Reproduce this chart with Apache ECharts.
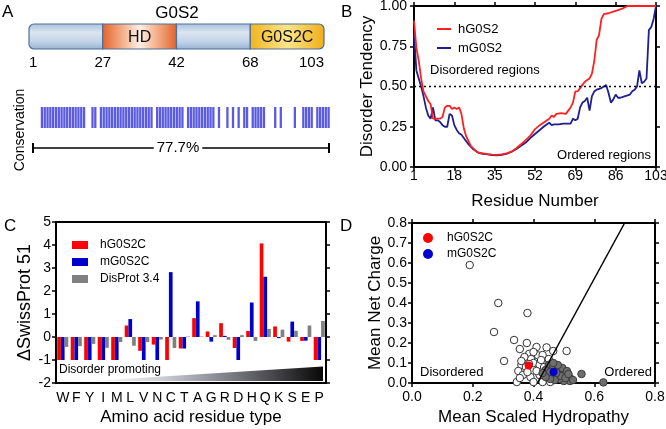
<!DOCTYPE html>
<html>
<head>
<meta charset="utf-8">
<script src="https://cdn.jsdelivr.net/npm/echarts@6/dist/echarts.min.js"></script>
<style>
  html, body { margin: 0; padding: 0; background: #fff; }
  #chart { width: 666px; height: 429px; }
</style>
</head>
<body>
<div id="chart"></div>
<script>
// ---- panel A: domain map + conservation ----
const domainEdges = [1, 27, 42, 68, 103];
const domainNames = ['', 'HD', '', 'G0S2C'];
const proteinLength = 103;
// conserved residues, as runs [from, to]
const conservedRuns = [[1, 16], [19, 20], [22, 40], [42, 51], [53, 62], [64, 64], [67, 67], [69, 69],
  [71, 71], [73, 74], [76, 80], [84, 84], [86, 86], [91, 91], [94, 97], [99, 103]];

// ---- panel B: disorder tendency (residue, score) ----
const residueTicks = [1, 18, 35, 52, 69, 86, 103];
const hG0S2 = [[1, 0.91], [2, 0.74], [3, 0.66], [4, 0.55], [5, 0.47], [6, 0.44], [7, 0.41], [8, 0.39], [9, 0.30],
  [10, 0.30], [11, 0.30], [12, 0.30], [13, 0.31], [14, 0.37], [15, 0.38], [16, 0.38], [17, 0.36], [18, 0.37],
  [19, 0.36], [20, 0.37], [21, 0.33], [22, 0.24], [23, 0.19], [24, 0.16], [25, 0.13], [26, 0.115], [27, 0.10],
  [28, 0.09], [30, 0.085], [32, 0.08], [34, 0.077], [36, 0.075], [38, 0.078], [40, 0.085], [42, 0.095],
  [44, 0.115], [46, 0.14], [48, 0.165], [50, 0.195], [52, 0.235], [54, 0.26], [56, 0.28], [58, 0.30],
  [59, 0.32], [60, 0.31], [61, 0.33], [63, 0.335], [65, 0.33], [66, 0.35], [67, 0.37], [68, 0.40], [69, 0.47],
  [70, 0.47], [71, 0.49], [72, 0.51], [73, 0.53], [74, 0.54], [75, 0.55], [76, 0.58], [77, 0.66], [78, 0.79],
  [79, 0.82], [80, 0.92], [81, 0.95], [83, 0.955], [85, 0.965], [87, 0.975], [89, 0.985], [91, 1.0], [103, 1.0]];
const mG0S2 = [[1, 0.83], [2, 0.60], [3, 0.55], [4, 0.50], [5, 0.44], [6, 0.37], [7, 0.32], [8, 0.30], [9, 0.37],
  [10, 0.29], [11, 0.29], [12, 0.28], [13, 0.26], [14, 0.25], [15, 0.25], [16, 0.33], [17, 0.32], [18, 0.26],
  [19, 0.23], [20, 0.21], [21, 0.20], [22, 0.18], [23, 0.16], [24, 0.14], [25, 0.125], [26, 0.11], [28, 0.09],
  [30, 0.082], [32, 0.078], [34, 0.074], [36, 0.073], [38, 0.076], [40, 0.082], [42, 0.093], [44, 0.11],
  [46, 0.13], [48, 0.15], [50, 0.18], [52, 0.205], [54, 0.23], [56, 0.255], [58, 0.275], [59, 0.26],
  [60, 0.265], [62, 0.265], [64, 0.27], [66, 0.27], [67, 0.27], [68, 0.30], [69, 0.29], [70, 0.30], [71, 0.37],
  [72, 0.40], [73, 0.41], [74, 0.43], [75, 0.35], [76, 0.44], [77, 0.47], [78, 0.48], [80, 0.49], [81, 0.50],
  [82, 0.51], [83, 0.46], [84, 0.40], [85, 0.42], [86, 0.45], [87, 0.43], [88, 0.43], [90, 0.44], [92, 0.45],
  [93, 0.47], [94, 0.48], [95, 0.50], [96, 0.60], [97, 0.52], [98, 0.53], [99, 0.55], [100, 0.85], [101, 0.87],
  [102, 0.92], [103, 1.0]];

// ---- panel C: composition vs SwissProt 51 ----
const aminoAcids = ['W', 'F', 'Y', 'I', 'M', 'L', 'V', 'N', 'C', 'T', 'A', 'G', 'R', 'D', 'H', 'Q', 'K', 'S', 'E', 'P'];
const hG0S2C = [-1, -1, -1, -1, -1, 0.5, -0.6, -0.33, -1, -0.5, 0.82, 0.24, 0.6, -0.48, 0.26, 4.07, 0.46, -0.2, -0.17, -1];
const mG0S2C = [-1, -1, -1, -1, -1, 0.78, -1, -1, 2.82, -0.5, 1.55, -0.2, 0.05, -1, 1.5, 2.62, -0.05, 0.67, -0.16, -1];
const disProt = [-0.43, -0.4, -0.3, -0.47, -0.22, -0.38, -0.22, -0.11, -0.48, 0.02, 0.02, 0.08, -0.12, 0.08, -0.17, 0.35, 0.32, 0.27, 0.5, 0.7];

// ---- panel D: charge-hydropathy plot ----
const disorderedProteins = [[0.19, 0.59], [0.284, 0.40], [0.38, 0.35], [0.27, 0.255], [0.336, 0.215], [0.378, 0.20],
  [0.41, 0.18], [0.443, 0.178], [0.465, 0.16], [0.509, 0.16], [0.355, 0.17], [0.386, 0.146], [0.415, 0.138],
  [0.303, 0.11], [0.36, 0.09], [0.375, 0.08], [0.392, 0.12], [0.37, 0.13], [0.40, 0.10], [0.42, 0.09],
  [0.35, 0.06], [0.365, 0.04], [0.345, 0.005], [0.39, 0.03], [0.40, 0.005], [0.42, 0.04], [0.435, 0.08],
  [0.44, 0.02], [0.45, 0.12], [0.43, 0.14], [0.41, 0.06], [0.38, 0.055], [0.425, 0.115], [0.455, 0.005],
  [0.47, 0.03], [0.385, 0.095], [0.40, 0.155], [0.36, 0.11], [0.43, 0.005], [0.445, 0.045], [0.465, 0.095],
  [0.355, 0.025]];
const orderedProteins = [[0.45, 0.09], [0.465, 0.08], [0.48, 0.07], [0.49, 0.06], [0.50, 0.05], [0.51, 0.04],
  [0.52, 0.025], [0.52, 0.01], [0.50, 0.01], [0.485, 0.02], [0.46, 0.04], [0.47, 0.015], [0.49, 0.035],
  [0.505, 0.025], [0.495, 0.075], [0.475, 0.05], [0.44, 0.065], [0.455, 0.055], [0.53, 0.015], [0.48, 0.09],
  [0.455, 0.02], [0.465, 0.10], [0.51, 0.06], [0.515, 0.045], [0.44, 0.03], [0.43, 0.05], [0.558, 0.045],
  [0.63, 0.003]];
const hG0S2CPoint = [[0.384, 0.087]];
const mG0S2CPoint = [[0.466, 0.055]];
const boundaryLine = [[0.413, 0], [0.70, 0.8]];

// ---------------------------------------------------------------
const FONT = 'Liberation Sans, Arial, Helvetica, sans-serif';
const BLACK = '#000';
const RED_B = '#ff2020';
const NAVY_B = '#1f1f8f';

const residues = Array.from({ length: proteinLength }, (_, k) => k + 1);
const consFlags = residues.map(r => conservedRuns.some(([a, b]) => r >= a && r <= b) ? 1 : 0);
const consPct = (consFlags.reduce((s, v) => s + v, 0) / proteinLength * 100).toFixed(1) + '%';

// segment fills of the domain map
const blueFill = { type: 'linear', x: 0, y: 0, x2: 0, y2: 1, colorStops: [
  { offset: 0, color: '#a8c0dc' }, { offset: 0.35, color: '#dbe5f1' }, { offset: 0.7, color: '#c2d3e7' }, { offset: 1, color: '#94b1d2' }] };
const hdFill = { type: 'linear', x: 0, y: 0, x2: 1, y2: 0, colorStops: [
  { offset: 0, color: '#e3622a' }, { offset: 0.3, color: '#f6b894' }, { offset: 0.5, color: '#fdefe6' },
  { offset: 0.7, color: '#f6b894' }, { offset: 1, color: '#e3622a' }] };
const yellowFill = { type: 'linear', x: 0, y: 0, x2: 1, y2: 0, colorStops: [
  { offset: 0, color: '#f1b41c' }, { offset: 0.5, color: '#fbe58c' }, { offset: 1, color: '#efae18' }] };
const domainFills = [blueFill, hdFill, blueFill, yellowFill];

const lineStyle = { color: BLACK, width: 2 };
const tickStyle = { color: BLACK, width: 1.5 };
const labelStyle = { color: BLACK, fontSize: 14, fontFamily: FONT };
const nameStyle = { color: BLACK, fontSize: 17, fontFamily: FONT };

// framed axis (labels only on bottom/left)
function frameAxis(extra, labelled) {
  return Object.assign({
    axisLine: { show: true, onZero: false, lineStyle },
    axisTick: { show: true, length: 4, inside: false, lineStyle: tickStyle },
    axisLabel: labelled ? Object.assign({}, labelStyle) : { show: false },
    splitLine: { show: false }
  }, extra);
}

const fmt1 = v => v.toFixed(1);
const fmt2 = v => v.toFixed(2);

const option = {
  animation: false,
  backgroundColor: '#fff',
  textStyle: { fontFamily: FONT },
  grid: [
    { left: 29, top: 24, width: 295, height: 25, outerBoundsMode: 'none' },
    { left: 40.5, top: 107, width: 289.5, height: 21, outerBoundsMode: 'none' },
    { left: 414, top: 6, width: 242, height: 161, outerBoundsMode: 'none' },
    { left: 56, top: 222, width: 270, height: 161, outerBoundsMode: 'none' },
    { left: 412, top: 223, width: 243, height: 160, outerBoundsMode: 'none' }
  ],
  xAxis: [
    { gridIndex: 0, type: 'category', data: domainEdges.map(String), boundaryGap: false,
      axisLine: { show: false }, axisTick: { show: false }, splitLine: { show: false },
      axisLabel: { color: BLACK, fontSize: 15, fontFamily: FONT, margin: 6, interval: 0,
        alignMinLabel: 'left', alignMaxLabel: 'right' } },
    { gridIndex: 1, type: 'category', data: residues, show: false },
    frameAxis({ gridIndex: 2, type: 'value', min: 1, max: 103, position: 'bottom',
      axisTick: { length: 4, lineStyle: tickStyle, customValues: residueTicks },
      axisLabel: Object.assign({ customValues: residueTicks, margin: 2 }, labelStyle),
      name: 'Residue Number', nameLocation: 'middle', nameGap: 26, nameTextStyle: nameStyle }, true),
    frameAxis({ gridIndex: 2, type: 'value', min: 1, max: 103, position: 'top',
      axisTick: { length: 4, lineStyle: tickStyle, customValues: residueTicks } }, false),
    frameAxis({ gridIndex: 3, type: 'category', data: aminoAcids, position: 'bottom',
      axisTick: { length: 4, alignWithLabel: true, interval: 0, lineStyle: tickStyle },
      axisLabel: Object.assign({ margin: 8, interval: 0 }, labelStyle),
      name: 'Amino acid residue type', nameLocation: 'middle', nameGap: 26, nameTextStyle: nameStyle }, true),
    frameAxis({ gridIndex: 3, type: 'category', data: aminoAcids, position: 'top',
      axisTick: { length: 4, alignWithLabel: true, interval: 0, lineStyle: tickStyle } }, false),
    frameAxis({ gridIndex: 4, type: 'value', min: 0, max: 0.8, interval: 0.2, position: 'bottom',
      axisLabel: Object.assign({ formatter: fmt1, margin: 7 }, labelStyle),
      name: 'Mean Scaled Hydropathy', nameLocation: 'middle', nameGap: 26, nameTextStyle: nameStyle }, true),
    frameAxis({ gridIndex: 4, type: 'value', min: 0, max: 0.8, interval: 0.2, position: 'top' }, false)
  ],
  yAxis: [
    { gridIndex: 0, type: 'value', min: 0, max: 1, show: false },
    { gridIndex: 1, type: 'value', min: 0, max: 1, show: false },
    frameAxis({ gridIndex: 2, type: 'value', min: 0, max: 1, interval: 0.25, position: 'left',
      axisLabel: Object.assign({ formatter: fmt2, margin: 7 }, labelStyle),
      name: 'Disorder Tendency', nameLocation: 'middle', nameGap: 35, nameTextStyle: nameStyle }, true),
    frameAxis({ gridIndex: 2, type: 'value', min: 0, max: 1, interval: 0.25, position: 'right' }, false),
    frameAxis({ gridIndex: 3, type: 'value', min: -2, max: 5, interval: 1, position: 'left',
      axisLabel: Object.assign({ margin: 5 }, labelStyle),
      name: '\u0394SwissProt 51', nameLocation: 'middle', nameGap: 22,
      nameTextStyle: Object.assign({}, nameStyle, { fontSize: 18 }) }, true),
    frameAxis({ gridIndex: 3, type: 'value', min: -2, max: 5, interval: 1, position: 'right' }, false),
    frameAxis({ gridIndex: 4, type: 'value', min: 0, max: 0.8, interval: 0.1, position: 'left',
      axisLabel: Object.assign({ formatter: fmt1, margin: 5 }, labelStyle),
      name: 'Mean Net Charge', nameLocation: 'middle', nameGap: 27, nameTextStyle: nameStyle }, true),
    frameAxis({ gridIndex: 4, type: 'value', min: 0, max: 0.8, interval: 0.1, position: 'right' }, false)
  ],
  legend: [
    { data: [
        { name: 'hG0S2', icon: 'rect', itemStyle: { color: RED_B } },
        { name: 'mG0S2', icon: 'rect', itemStyle: { color: NAVY_B } }],
      left: 432, top: 17, orient: 'vertical', selectedMode: false,
      itemWidth: 14, itemHeight: 2, itemGap: 5,
      textStyle: { color: BLACK, fontSize: 13, lineHeight: 14, fontFamily: FONT, padding: [0, 0, 0, 2] } },
    { data: [
        { name: 'hG0S2C', icon: 'rect', itemStyle: { color: '#ff0000' } },
        { name: 'mG0S2C', icon: 'rect', itemStyle: { color: '#0000cc' } },
        { name: 'DisProt 3.4', icon: 'rect', itemStyle: { color: '#808080' } }],
      left: 67, top: 233, orient: 'vertical', selectedMode: false,
      itemWidth: 16, itemHeight: 8, itemGap: 3,
      textStyle: { color: BLACK, fontSize: 12, lineHeight: 14, fontFamily: FONT, padding: [0, 0, 0, 7] } },
    { data: [
        { name: 'hG0S2C', icon: 'circle', itemStyle: { color: '#ff0000', borderWidth: 0 } },
        { name: 'mG0S2C', icon: 'circle', itemStyle: { color: '#0000cc', borderWidth: 0 } }],
      left: 418, top: 226, orient: 'vertical', selectedMode: false,
      itemWidth: 10, itemHeight: 10, itemGap: 2,
      textStyle: { color: BLACK, fontSize: 12, lineHeight: 14, fontFamily: FONT, padding: [0, 0, 0, 9] } }
  ],
  series: [
    // A: domain map
    { type: 'custom', xAxisIndex: 0, yAxisIndex: 0, silent: true,
      data: domainNames.map((n, i) => ({ name: n, value: [i, i + 1] })),
      renderItem: (params, api) => {
        const cs = params.coordSys;
        const i = params.dataIndex;
        const x0 = api.coord([api.value(0), 0])[0];
        const x1 = api.coord([api.value(1), 0])[0];
        const last = domainNames.length - 1;
        const r = i === 0 ? [5, 0, 0, 5] : (i === last ? [0, 5, 5, 0] : 0);
        return { type: 'group', children: [
          { type: 'rect', shape: { x: x0, y: cs.y, width: x1 - x0, height: cs.height, r },
            style: { fill: domainFills[i], stroke: '#4d6f9b', lineWidth: 1.2 } },
          { type: 'text', style: { text: domainNames[i], x: (x0 + x1) / 2, y: cs.y + cs.height / 2 + 1,
            align: 'center', verticalAlign: 'middle', fontSize: 16, fontFamily: FONT, fill: '#111' } }
        ] };
      } },
    // A: conservation
    { type: 'bar', xAxisIndex: 1, yAxisIndex: 1, data: consFlags, barCategoryGap: '18%',
      itemStyle: { color: '#5a5ae2' }, silent: true },
    // B
    { type: 'line', name: 'mG0S2', xAxisIndex: 2, yAxisIndex: 2, data: mG0S2, symbol: 'none',
      lineStyle: { color: NAVY_B, width: 1.8 }, itemStyle: { color: NAVY_B } },
    { type: 'line', name: 'hG0S2', xAxisIndex: 2, yAxisIndex: 2, data: hG0S2, symbol: 'none',
      lineStyle: { color: RED_B, width: 1.8 }, itemStyle: { color: RED_B },
      markLine: { silent: true, symbol: 'none', label: { show: false },
        lineStyle: { type: [2, 3], color: BLACK, width: 1.3 }, data: [{ yAxis: 0.5 }] } },
    // C
    { type: 'bar', name: 'hG0S2C', xAxisIndex: 4, yAxisIndex: 4, data: hG0S2C, barWidth: 3.7, barGap: '0%',
      itemStyle: { color: '#ff0000' } },
    { type: 'bar', name: 'mG0S2C', xAxisIndex: 4, yAxisIndex: 4, data: mG0S2C, barWidth: 3.7, barGap: '0%',
      itemStyle: { color: '#0000cc' } },
    { type: 'bar', name: 'DisProt 3.4', xAxisIndex: 4, yAxisIndex: 4, data: disProt, barWidth: 3.7, barGap: '0%',
      itemStyle: { color: '#808080' } },
    // D
    { type: 'scatter', name: 'disordered', xAxisIndex: 6, yAxisIndex: 6, data: disorderedProteins, symbolSize: 7.5,
      clip: false, itemStyle: { color: '#fff', borderColor: '#333', borderWidth: 1, opacity: 1 } },
    { type: 'scatter', name: 'ordered', xAxisIndex: 6, yAxisIndex: 6, data: orderedProteins, symbolSize: 7.5,
      clip: false, itemStyle: { color: '#6e6e6e', borderColor: '#3a3a3a', borderWidth: 1, opacity: 1 } },
    { type: 'line', name: 'boundary', xAxisIndex: 6, yAxisIndex: 6, data: boundaryLine, symbol: 'none',
      lineStyle: { color: BLACK, width: 1.5 }, z: 3 },
    { type: 'scatter', name: 'hG0S2C', xAxisIndex: 6, yAxisIndex: 6, data: hG0S2CPoint, symbolSize: 8,
      itemStyle: { color: '#ff0000', opacity: 1 }, z: 4 },
    { type: 'scatter', name: 'mG0S2C', xAxisIndex: 6, yAxisIndex: 6, data: mG0S2CPoint, symbolSize: 8,
      itemStyle: { color: '#0000cc', opacity: 1 }, z: 4 }
  ],
  graphic: [
    // panel letters
    { type: 'text', x: 2, y: 12.5, z: 10, style: { text: 'A', fontSize: 17, fontFamily: FONT, fill: BLACK, verticalAlign: 'middle' } },
    { type: 'text', x: 341, y: 12.5, z: 10, style: { text: 'B', fontSize: 17, fontFamily: FONT, fill: BLACK, verticalAlign: 'middle' } },
    { type: 'text', x: 4, y: 226, z: 10, style: { text: 'C', fontSize: 17, fontFamily: FONT, fill: BLACK, verticalAlign: 'middle' } },
    { type: 'text', x: 340, y: 226, z: 10, style: { text: 'D', fontSize: 17, fontFamily: FONT, fill: BLACK, verticalAlign: 'middle' } },
    // panel A annotations
    { type: 'text', x: 177, y: 13, z: 10, style: { text: 'G0S2', fontSize: 17, fontFamily: FONT, fill: BLACK, align: 'center', verticalAlign: 'middle' } },
    { type: 'text', x: 20, y: 130, rotation: Math.PI / 2, z: 10,
      style: { text: 'Conservation', fontSize: 14, fontFamily: FONT, fill: BLACK, align: 'center', verticalAlign: 'middle' } },
    { type: 'group', z: 10, children: [
      { type: 'line', shape: { x1: 33, y1: 148, x2: 329, y2: 148 }, style: { stroke: BLACK, lineWidth: 1.5 } },
      { type: 'line', shape: { x1: 33, y1: 143, x2: 33, y2: 153 }, style: { stroke: BLACK, lineWidth: 2 } },
      { type: 'line', shape: { x1: 329, y1: 143, x2: 329, y2: 153 }, style: { stroke: BLACK, lineWidth: 2 } },
      { type: 'text', x: 178, y: 148, style: { text: consPct, fontSize: 15, fontFamily: FONT, fill: BLACK,
        align: 'center', verticalAlign: 'middle', backgroundColor: '#fff', padding: [0, 3] } }
    ] },
    // panel B annotations
    { type: 'text', x: 430, y: 70, z: 10, style: { text: 'Disordered regions', fontSize: 13, fontFamily: FONT, fill: BLACK, verticalAlign: 'middle' } },
    { type: 'text', x: 651, y: 155, z: 10, style: { text: 'Ordered regions', fontSize: 13, fontFamily: FONT, fill: BLACK, align: 'right', verticalAlign: 'middle' } },
    // panel C wedge
    { type: 'polygon', z: 1, shape: { points: [[90, 381], [323, 366.5], [323, 381]] },
      style: { fill: { type: 'linear', x: 0, y: 0, x2: 1, y2: 0, colorStops: [
        { offset: 0, color: '#ffffff' }, { offset: 0.3, color: '#d0d0dc' }, { offset: 0.65, color: '#6e6e76' }, { offset: 1, color: '#080808' }] } } },
    { type: 'text', x: 59, y: 370, z: 10, style: { text: 'Disorder promoting', fontSize: 12, fontFamily: FONT, fill: BLACK, verticalAlign: 'middle' } },
    // panel D annotations
    { type: 'text', x: 420, y: 372, z: 10, style: { text: 'Disordered', fontSize: 13, fontFamily: FONT, fill: BLACK, verticalAlign: 'middle' } },
    { type: 'text', x: 652, y: 372, z: 10, style: { text: 'Ordered', fontSize: 13, fontFamily: FONT, fill: BLACK, align: 'right', verticalAlign: 'middle' } }
  ]
};

const chart = echarts.init(document.getElementById('chart'), null, { renderer: 'canvas' });
chart.setOption(option);
</script>
</body>
</html>
